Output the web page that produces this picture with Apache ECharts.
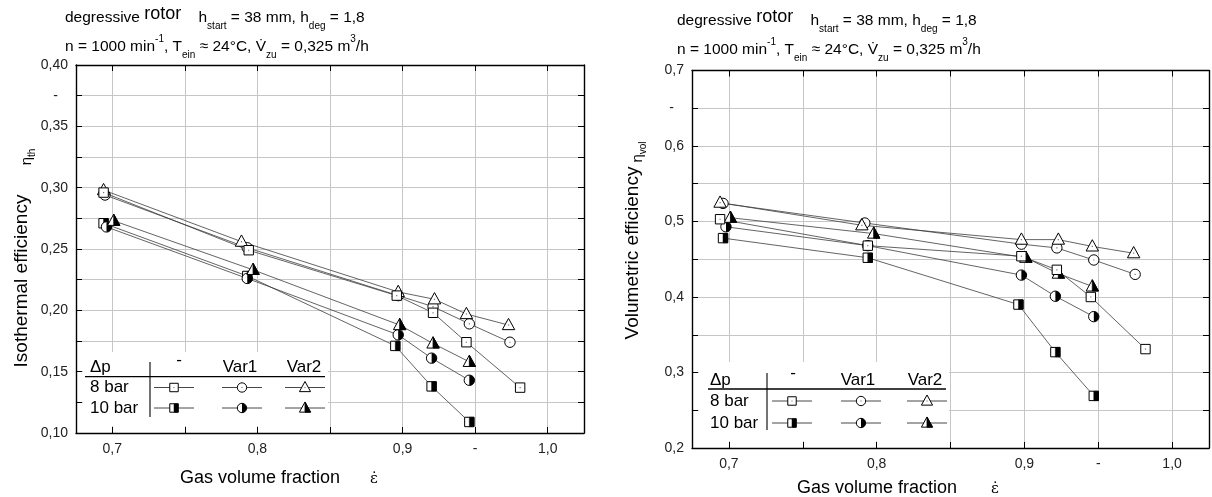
<!DOCTYPE html>
<html><head><meta charset="utf-8">
<script src="https://cdn.jsdelivr.net/npm/echarts@6/dist/echarts.min.js"></script>
<style>html,body{margin:0;padding:0;background:#fff}#c{width:1212px;height:497px}</style>
</head><body><div id="c"></div><script>
const FONT = '"Liberation Sans", Arial, sans-serif';

// ---- tick labels ----
const xTickLabels = [[0.7,'0,7'],[0.8,'0,8'],[0.9,'0,9'],[0.95,'-'],[1.0,'1,0']];
const isoTickLabels = [[0.10,'0,10'],[0.15,'0,15'],[0.20,'0,20'],[0.25,'0,25'],[0.30,'0,30'],[0.35,'0,35'],[0.375,'-'],[0.40,'0,40']];
const volTickLabels = [[0.2,'0,2'],[0.3,'0,3'],[0.4,'0,4'],[0.5,'0,5'],[0.6,'0,6'],[0.65,'-'],[0.7,'0,7']];

// ---- isothermal efficiency (left) ----
const isoX8Std  = [0.694, 0.794, 0.896, 0.921, 0.944, 0.981];
const isoY8Std  = [0.296, 0.249, 0.212, 0.198, 0.174, 0.137];
const isoX8V1   = [0.695, 0.793, 0.897, 0.921, 0.946, 0.974];
const isoY8V1   = [0.294, 0.251, 0.212, 0.203, 0.189, 0.174];
const isoX8V2   = [0.694, 0.789, 0.897, 0.922, 0.944, 0.973];
const isoY8V2   = [0.298, 0.256, 0.215, 0.209, 0.197, 0.188];
const isoX10Std = [0.694, 0.793, 0.895, 0.920, 0.946];
const isoY10Std = [0.271, 0.228, 0.171, 0.138, 0.109];
const isoX10V1  = [0.696, 0.793, 0.897, 0.920, 0.946];
const isoY10V1  = [0.268, 0.226, 0.180, 0.161, 0.143];
const isoX10V2  = [0.701, 0.797, 0.898, 0.921, 0.946];
const isoY10V2  = [0.273, 0.233, 0.188, 0.173, 0.158];

// ---- volumetric efficiency (right) ----
const volX8Std  = [0.694, 0.794, 0.898, 0.922, 0.945, 0.982];
const volY8Std  = [0.503, 0.468, 0.454, 0.436, 0.400, 0.331];
const volX8V1   = [0.696, 0.792, 0.898, 0.922, 0.947, 0.975];
const volY8V1   = [0.524, 0.498, 0.470, 0.465, 0.449, 0.430];
const volX8V2   = [0.694, 0.790, 0.898, 0.923, 0.946, 0.974];
const volY8V2   = [0.525, 0.495, 0.476, 0.476, 0.467, 0.458];
const volX10Std = [0.696, 0.794, 0.896, 0.921, 0.947];
const volY10Std = [0.478, 0.452, 0.390, 0.327, 0.269];
const volX10V1  = [0.698, 0.794, 0.898, 0.921, 0.947];
const volY10V1  = [0.493, 0.468, 0.429, 0.401, 0.374];
const volX10V2  = [0.701, 0.798, 0.901, 0.923, 0.946];
const volY10V2  = [0.505, 0.484, 0.452, 0.431, 0.414];

// ---- legend text ----
const legendHeader = 'Δp';
const legendCols = ['-', 'Var1', 'Var2'];
const legendRows = ['8 bar', '10 bar'];
const legendShapes = ['square', 'circle', 'triangle'];

// draw order (10 bar first, then 8 bar)
const isoSeries = [
  {shape:'square', half:true,  x:isoX10Std, y:isoY10Std},
  {shape:'circle', half:true,  x:isoX10V1,  y:isoY10V1},
  {shape:'triangle', half:true, x:isoX10V2, y:isoY10V2},
  {shape:'circle', half:false, x:isoX8V1,  y:isoY8V1},
  {shape:'triangle', half:false, x:isoX8V2, y:isoY8V2},
  {shape:'square', half:false, x:isoX8Std, y:isoY8Std}
];
const volSeries = [
  {shape:'square', half:true,  x:volX10Std, y:volY10Std},
  {shape:'circle', half:true,  x:volX10V1,  y:volY10V1},
  {shape:'triangle', half:true, x:volX10V2, y:volY10V2},
  {shape:'circle', half:false, x:volX8V1,  y:volY8V1},
  {shape:'triangle', half:false, x:volX8V2, y:volY8V2},
  {shape:'square', half:false, x:volX8Std, y:volY8Std}
];

function lookup(arr, v) {
  for (const [k, l] of arr) if (Math.abs(k - v) < 1e-6) return l === '-' ? '{d|-}' : l;
  return '';
}

function markerShapes(shape, half, cx, cy, s) {
  const out = [];
  const st = {fill:'#fff', stroke:'#000', lineWidth:1};
  if (shape === 'square') {
    const h = 4.7 * s;
    out.push({type:'rect', shape:{x:cx-h, y:cy-h, width:2*h, height:2*h}, style:st});
    if (half) out.push({type:'rect', shape:{x:cx, y:cy-h, width:h, height:2*h}, style:{fill:'#000', stroke:'#000', lineWidth:0.5}});
  } else if (shape === 'circle') {
    const r = 5.2 * s;
    out.push({type:'circle', shape:{cx:cx, cy:cy, r:r}, style:st});
    if (half) out.push({type:'sector', shape:{cx:cx, cy:cy, r:r, r0:0, startAngle:-Math.PI/2, endAngle:Math.PI/2, clockwise:true}, style:{fill:'#000'}});
  } else {
    const w = 6.2 * s, top = 6.7 * s, bot = 4.6 * s;
    out.push({type:'polygon', shape:{points:[[cx, cy-top],[cx+w, cy+bot],[cx-w, cy+bot]]}, style:st});
    if (half) out.push({type:'polygon', shape:{points:[[cx, cy-top],[cx+w, cy+bot],[cx, cy+bot]]}, style:{fill:'#000', stroke:'#000', lineWidth:0.8}});
  }
  if (!half) out.push({type:'rect', shape:{x:cx-0.6, y:cy-0.6, width:1.2, height:1.2}, style:{fill:'#777'}});
  return out;
}

function makeRender(shape, half) {
  return function (params, api) {
    const p = api.coord([api.value(0), api.value(1)]);
    return {type:'group', children: markerShapes(shape, half, p[0], p[1], 1)};
  };
}

const series = [];
function addSeries(defs, xi, yi) {
  defs.forEach(d => {
    const pts = d.x.map((v, i) => [v, d.y[i]]);
    series.push({type:'line', xAxisIndex:xi, yAxisIndex:yi, data:pts, symbol:'none', showSymbol:false,
      lineStyle:{color:'#3c3c3c', width:0.8}, z:2, silent:true, animation:false});
  });
  defs.forEach(d => {
    const pts = d.x.map((v, i) => [v, d.y[i]]);
    series.push({type:'custom', xAxisIndex:xi, yAxisIndex:yi, data:pts, encode:{x:0, y:1},
      renderItem: makeRender(d.shape, d.half), z:3, silent:true, animation:false});
  });
}
addSeries(isoSeries, 0, 0);
addSeries(volSeries, 2, 2);

const axisLineStyle = {show:true, onZero:false, lineStyle:{color:'#000', width:1.4}};
const tickStyle = {show:true, inside:true, length:6, lineStyle:{color:'#000', width:1}};
const gridLine = {show:true, lineStyle:{color:'#c6c6c6', width:1}};
const LBL = 14;
const labelRich = {d:{padding:[0,10,0,0], fontSize:LBL, color:'#222', fontFamily:FONT}};

function xAxes(gi) {
  return [
    {type:'value', gridIndex:gi, position:'bottom', min:0.675, max:1.025, splitNumber:7,
      axisLine:axisLineStyle, axisTick:tickStyle, splitLine:gridLine,
      axisLabel:{show:true, margin:9, fontSize:LBL, color:'#222', fontFamily:FONT,
        formatter:v => lookup(xTickLabels, v), rich:{d:{fontSize:LBL, color:'#222', fontFamily:FONT}}}},
    {type:'value', gridIndex:gi, position:'top', min:0.675, max:1.025, splitNumber:7,
      axisLine:axisLineStyle, axisTick:tickStyle, splitLine:{show:false}, axisLabel:{show:false}}
  ];
}
function yAxes(gi, min, max, interval, labels) {
  return [
    {type:'value', gridIndex:gi, position:'left', min:min, max:max, interval:interval,
      axisLine:axisLineStyle, axisTick:tickStyle, splitLine:gridLine,
      axisLabel:{show:true, margin:8, fontSize:LBL, color:'#222', fontFamily:FONT,
        formatter:v => lookup(labels, v), rich:labelRich}},
    {type:'value', gridIndex:gi, position:'right', min:min, max:max, interval:interval,
      axisLine:axisLineStyle, axisTick:tickStyle, splitLine:{show:false}, axisLabel:{show:false}}
  ];
}

// ---- text helpers ----
const titleRich = {
  a:{fontSize:15.5, fontFamily:FONT, fill:'#000', lineHeight:26},
  r:{fontSize:18, fontFamily:FONT, fill:'#000', lineHeight:24, verticalAlign:'top'},
  s:{fontSize:10, fontFamily:FONT, fill:'#000', lineHeight:12, verticalAlign:'bottom'},
  p:{fontSize:10, fontFamily:FONT, fill:'#000', lineHeight:15, verticalAlign:'top'}
};
function titleTexts(x, y1, y2) {
  return [
    {type:'text', x:x, y:y1, z:10, style:{text:'{a|degressive }{r|rotor}{a|    h}{s|start}{a| = 38 mm, h}{s|deg}{a| = 1,8}',
      rich:titleRich, font:'15.5px '+FONT, align:'left', verticalAlign:'middle'}},
    {type:'text', x:x, y:y2, z:10, style:{text:'{a|n = 1000 min}{p|-1}{a|, T}{s|ein}{a| ≈ 24°C, V̇}{s|zu}{a| = 0,325 m}{p|3}{a|/h}',
      rich:titleRich, font:'15.5px '+FONT, align:'left', verticalAlign:'middle'}}
  ];
}
const etaRich = {
  e:{fontSize:15, fontFamily:FONT, fill:'#000', lineHeight:20},
  s:{fontSize:10, fontFamily:FONT, fill:'#000', lineHeight:11, verticalAlign:'bottom'}
};
function axisNames(xName, yNameX, yNameY, etaX, etaY, etaSub, yText) {
  return [
    {type:'text', x:xName[0], y:xName[1], z:10, style:{text:'Gas volume fraction', font:'18px '+FONT, fill:'#000', align:'left', verticalAlign:'middle'}},
    {type:'text', x:xName[2], y:xName[1]+1, z:10, style:{text:'ε̇', font:'15px "DejaVu Serif", serif', fill:'#000', align:'center', verticalAlign:'middle'}},
    {type:'text', x:yNameX, y:yNameY, rotation:Math.PI/2, z:10, style:{text:yText, font:'19px '+FONT, fill:'#000', align:'center', verticalAlign:'middle'}},
    {type:'text', x:etaX, y:etaY, rotation:Math.PI/2, z:10, style:{text:'{e|η}{s|'+etaSub+'}', rich:etaRich, font:'15px '+FONT, align:'center', verticalAlign:'middle'}}
  ];
}

function legend(L) {
  const els = [];
  els.push({type:'rect', z:1, shape:{x:L.box[0], y:L.box[1], width:L.box[2], height:L.box[3]}, style:{fill:'#fff'}});
  const tf = '17px ' + FONT;
  els.push({type:'text', z:10, x:L.textX, y:L.headY, style:{text:legendHeader, font:tf, fill:'#000', align:'left', verticalAlign:'middle'}});
  legendCols.forEach((c, i) => {
    els.push({type:'text', z:10, x:L.colX[i], y:L.headY + (c === '-' ? L.dashDy : 0), style:{text:c, font:tf, fill:'#000', align:'center', verticalAlign:'middle'}});
  });
  els.push({type:'line', z:10, shape:{x1:L.hline[0], y1:L.hline[2], x2:L.hline[1], y2:L.hline[2]}, style:{stroke:'#000', lineWidth:1.3}});
  els.push({type:'line', z:10, shape:{x1:L.vline[0], y1:L.vline[1], x2:L.vline[0], y2:L.vline[2]}, style:{stroke:'#000', lineWidth:1.1}});
  legendRows.forEach((r, ri) => {
    const y = L.rowY[ri];
    els.push({type:'text', z:10, x:L.textX, y:y, style:{text:r, font:tf, fill:'#000', align:'left', verticalAlign:'middle'}});
    legendShapes.forEach((s, ci) => {
      const cx = L.markX[ci];
      els.push({type:'line', z:10, shape:{x1:cx-20, y1:y, x2:cx+20, y2:y}, style:{stroke:'#333', lineWidth:0.9}});
      markerShapes(s, ri === 1, cx, y, 0.9).forEach(m => { m.z = 11; els.push(m); });
    });
  });
  return els;
}

const graphics = [].concat(
  titleTexts(65, 18, 47),
  titleTexts(677, 21, 50),
  axisNames([180, 478, 374], 22, 281, 27, 157, 'th', 'Isothermal efficiency'),
  axisNames([797, 488, 995], 633, 253, 638, 152, 'vol', 'Volumetric efficiency'),
  legend({box:[83, 352, 245, 74], textX:90, headY:367, dashDy:-6.5, colX:[179, 240, 304],
          hline:[85, 325, 376.7], vline:[150, 362, 417], rowY:[387.5, 408], markX:[174, 242, 305]}),
  legend({box:[699, 362, 250, 79], textX:710, headY:380, dashDy:-6.5, colX:[793, 858, 925],
          hline:[708, 946, 389], vline:[767, 373, 430], rowY:[401, 423], markX:[792, 861, 927]})
);

const option = {
  animation:false,
  backgroundColor:'#fff',
  grid:[
    {left:76, top:65, width:508, height:368},
    {left:692, top:70.5, width:518, height:377.5}
  ],
  xAxis:[].concat(xAxes(0), xAxes(1)),
  yAxis:[].concat(yAxes(0, 0.1, 0.4, 0.025, isoTickLabels), yAxes(1, 0.2, 0.7, 0.05, volTickLabels)),
  series:series,
  graphic:{elements:graphics}
};
const chart = echarts.init(document.getElementById('c'), null, {renderer:'canvas'});
chart.setOption(option);
</script></body></html>
